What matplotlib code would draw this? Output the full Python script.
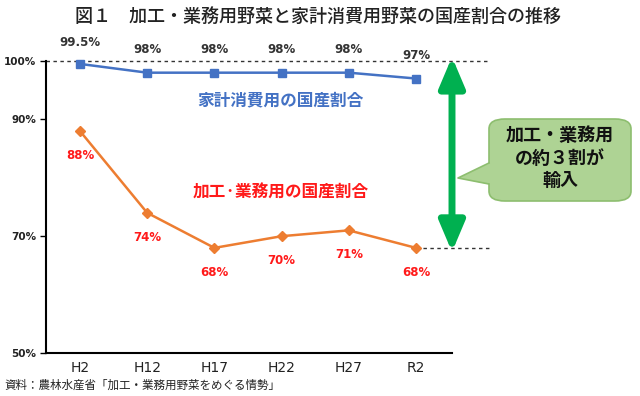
import numpy as np
import matplotlib.pyplot as plt
from matplotlib.patches import FancyBboxPatch, Polygon

plt.rcParams['font.family'] = ['Noto Sans CJK JP', 'DejaVu Sans']

# data
years = ['H2', 'H12', 'H17', 'H22', 'H27', 'R2']
home = [99.5, 98, 98, 98, 98, 97]          # 家計消費用
proc = [88, 74, 68, 70, 71, 68]            # 加工・業務用
home_lbl = ['99.5%', '98%', '98%', '98%', '98%', '97%']
proc_lbl = ['88%', '74%', '68%', '70%', '71%', '68%']
yticks = [50, 70, 90, 100]

blue = '#4472C4'
orange = '#ED7D31'
red = '#FF1A1A'
green = '#00B050'

W, H = 640, 396
fig = plt.figure(figsize=(6.4, 3.96), dpi=100)
ax = fig.add_axes([46 / W, 1 - 353 / H, (452 - 46) / W, (353 - 61) / H])

x = np.arange(len(years))
ax.plot(x, home, color=blue, lw=1.8, marker='s', ms=6, clip_on=False, zorder=4)
ax.plot(x, proc, color=orange, lw=1.8, marker='D', ms=5.5, clip_on=False, zorder=4)

ax.set_xlim(-0.506, 5.536)
ax.set_ylim(50, 100)

# dashed reference lines
ax.plot([-0.506, 6.1], [100, 100], ls=(0, (2.5, 2.5)), color='#333333', lw=1, clip_on=False, zorder=2)
ax.plot([5, 6.1], [proc[-1], proc[-1]], ls=(0, (2.5, 2.5)), color='#333333', lw=1, clip_on=False, zorder=2)

# value labels
for i in range(len(years)):
    dy = 3.7 if i == 0 else 3.9
    ax.text(x[i], home[i] + dy, home_lbl[i], ha='center', va='center', fontsize=8.5,
            fontweight='bold', color='#333333', family=['DejaVu Sans'])
    ax.text(x[i], proc[i] - 4.2, proc_lbl[i], ha='center', va='center', fontsize=8.5,
            fontweight='bold', color=red, family=['DejaVu Sans'])

# series names
ax.text(2.98, 93.3, '家計消費用の国産割合', ha='center', va='center', fontsize=12,
        fontweight='bold', color=blue)
ax.text(2.98, 77.4, '加工·業務用の国産割合', ha='center', va='center', fontsize=12,
        fontweight='bold', color=red)

# axes styling
ax.spines['top'].set_visible(False)
ax.spines['right'].set_visible(False)
ax.spines['left'].set_linewidth(1.5)
ax.spines['bottom'].set_linewidth(1.5)
ax.set_yticks(yticks)
ax.set_yticklabels([f'{v}%' for v in yticks], fontsize=7.5, fontweight='bold',
                   family=['DejaVu Sans'], color='#222222')
ax.set_xticks(x)
ax.set_xticklabels(years, fontsize=10, family=['DejaVu Sans'], color='#222222')
ax.tick_params(axis='x', length=0, pad=6)
ax.tick_params(axis='y', length=4, width=1, pad=3)

# green double arrow
ax.annotate('', xy=(5.536, 100.7), xytext=(5.536, proc[-1] - 0.7),
            arrowprops=dict(arrowstyle='<|-|>,head_length=1.3,head_width=0.55',
                            color=green, lw=5, shrinkA=0, shrinkB=0, mutation_scale=14),
            annotation_clip=False, zorder=5)

# callout box
face = '#AED394'
edge = '#8DBE6F'
bx0, bx1, by0, by1 = 489, 631, 119, 201
box = FancyBboxPatch((bx0 / W, 1 - by1 / H), (bx1 - bx0) / W, (by1 - by0) / H,
                     boxstyle='round,pad=0,rounding_size=0.025', transform=fig.transFigure,
                     facecolor=face, edgecolor=edge, lw=1.2, zorder=1)
fig.patches.append(box)
ptr = Polygon([(492 / W, 1 - 162 / H), (458 / W, 1 - 178 / H), (492 / W, 1 - 185 / H)],
              closed=True, transform=fig.transFigure, facecolor=face, edgecolor='none', zorder=2)
fig.patches.append(ptr)
fig.lines.append(plt.Line2D([489 / W, 458 / W, 489 / W], [1 - 163 / H, 1 - 178 / H, 1 - 184 / H],
                            transform=fig.transFigure, color=edge, lw=1.2, zorder=3))
fig.text(560 / W, 1 - 158 / H, '加工・業務用\nの約３割が\n輸入', ha='center', va='center',
         fontsize=13, fontweight='bold', color='#111111', linespacing=1.25)

# title and source
fig.text(318 / W, 1 - 17 / H, '図１　加工・業務用野菜と家計消費用野菜の国産割合の推移',
         ha='center', va='center', fontsize=13, fontweight='medium', color='#222222')
fig.text(4 / W, 1 - 385 / H, '資料：農林水産省「加工・業務用野菜をめぐる情勢」',
         ha='left', va='center', fontsize=8.3, color='#222222')

fig.savefig('out.png', dpi=100)
